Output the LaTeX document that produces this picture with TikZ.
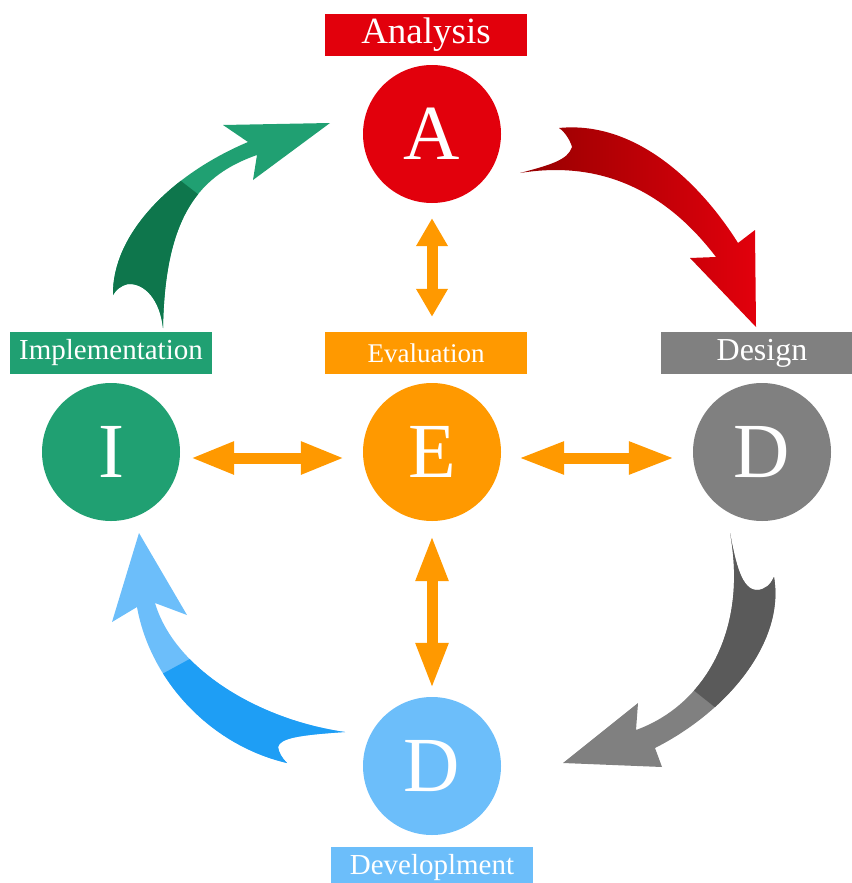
\documentclass[tikz,border=0pt]{standalone}
\usepackage{fontspec}
\setmainfont{Liberation Serif}
\usetikzlibrary{positioning,arrows.meta}

\definecolor{adiered}{RGB}{226,0,12}
\definecolor{adiedarkred}{RGB}{150,0,0}
\definecolor{adiegreen}{RGB}{32,160,114}
\definecolor{adiedarkgreen}{RGB}{14,118,76}
\definecolor{adieorange}{RGB}{255,153,0}
\definecolor{adiegray}{RGB}{128,128,128}
\definecolor{adiedarkgray}{RGB}{90,90,90}
\definecolor{adieblue}{RGB}{108,190,250}
\definecolor{adiedarkblue}{RGB}{30,158,245}

\newcommand\greenarrow{(113,295) .. controls (112,235) and (170,175) .. (248,142) -- (223,125) -- (330,123) -- (253,180) -- (257,155) .. controls (200,175) and (165,215) .. (163,328) .. controls (160,300) and (145,283) .. (128,284) .. controls (120,286) and (116,290) .. (113,295) -- cycle}
\newcommand\redarrow{(559,128) .. controls (640,120) and (705,190) .. (738,243) -- (755,230) -- (756,327) -- (690,258) -- (716,257) .. controls (665,190) and (600,160) .. (520,173) .. controls (550,165) and (568,160) .. (572,147) .. controls (570,140) and (565,132) .. (559,128) -- cycle}
\newcommand\grayarrow{(774,577) .. controls (785,640) and (730,710) .. (655,748) -- (662,767) -- (563,763) -- (638,703) -- (636,730) .. controls (705,705) and (748,630) .. (730,533) .. controls (736,565) and (742,590) .. (757,590) .. controls (765,590) and (771,584) .. (774,577) -- cycle}
\newcommand\bluearrow{(139,533) -- (187,615) -- (155,603) .. controls (175,670) and (260,720) .. (345,732) .. controls (300,735) and (280,738) .. (278,747) .. controls (279,753) and (282,758) .. (287,763) .. controls (210,745) and (150,680) .. (137,607) -- (112,622) -- cycle}

\begin{document}
\begin{tikzpicture}[x=1pt,y=-1pt,on grid,
  phase/.style={circle,minimum size=138pt,inner sep=0pt,text=white,font=\fontsize{78}{80}\selectfont},
  banner/.style={rectangle,minimum width=202pt,minimum height=42pt,inner sep=0pt,text=white},
  twoway/.style={draw=adieorange,line width=11pt,{Triangle[length=#1,width=30pt]}-{Triangle[length=#1,width=30pt]}}]
\useasboundingbox (0,0) rectangle (851,883);

\fill[adiegreen] \greenarrow;
\begin{scope}
\clip \greenarrow;
\fill[adiedarkgreen] (150,157) -- (230,219) -- (230,400) -- (0,400) -- (0,157) -- cycle;
\end{scope}
\shade[left color=adiedarkred,right color=adiered] \redarrow;
\fill[adiegray] \grayarrow;
\begin{scope}
\clip \grayarrow;
\fill[adiedarkgray] (670,671.4) -- (740,727.2) -- (900,727) -- (900,500) -- (670,500) -- cycle;
\end{scope}
\fill[adieblue] \bluearrow;
\begin{scope}
\clip \bluearrow;
\fill[adiedarkblue] (140,686) -- (200,653.4) -- (400,653) -- (400,800) -- (140,800) -- cycle;
\end{scope}

\node[phase,fill=adieorange] (e) at (432,452) {E};
\node[phase,fill=adiered] (a) [above=318pt of e] {A};
\node[phase,fill=adiegray] (d) [right=330pt of e] {D};
\node[phase,fill=adieblue] (dv) [below=314pt of e] {D};
\node[phase,fill=adiegreen] (i) [left=321pt of e] {I};

\node[banner,fill=adiered,font=\fontsize{37}{39}\selectfont] (analysis) [above=99pt of a,xshift=-6pt] {Analysis};
\node[banner,fill=adiegreen,font=\fontsize{29}{31}\selectfont] (implementation) [above=99pt of i] {Implementation};
\node[banner,fill=adieorange,font=\fontsize{27}{29}\selectfont] (evaluation) [above=99pt of e,xshift=-6pt] {Evaluation};
\node[banner,fill=adiegray,font=\fontsize{32}{34}\selectfont] (design) [above=99pt of d] {Design};
\node[banner,fill=adieblue,font=\fontsize{29}{31}\selectfont] (development) [below=102pt of dv] {Developlment};

\draw[twoway=28pt,shorten <=15pt,shorten >=15pt] (a.south) -- (a.south |- evaluation.north);
\draw[twoway=44pt,shorten <=10pt,shorten >=18pt] ([yshift=-6pt]i.east) -- ([yshift=-6pt]e.west);
\draw[twoway=46pt,shorten <=17pt,shorten >=18pt] ([yshift=-6pt]e.east) -- ([yshift=-6pt]d.west);
\draw[twoway=46pt,shorten <=14pt,shorten >=8pt] (e.south) -- (dv.north);
\end{tikzpicture}
\end{document}
